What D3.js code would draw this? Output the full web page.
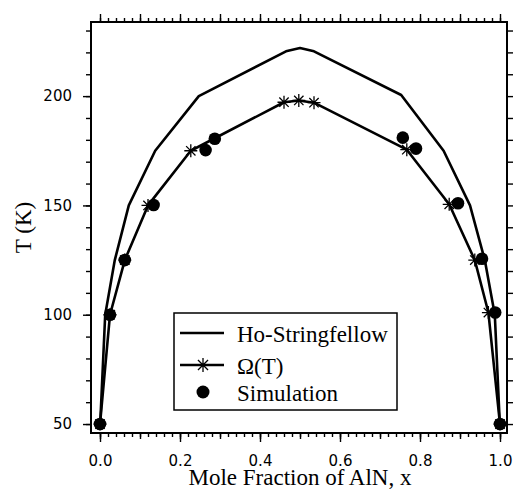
<!DOCTYPE html>
<html>
<head>
<meta charset="utf-8">
<script src="https://cdn.jsdelivr.net/npm/d3@7"></script>
<style>
  body { margin: 0; background: #fff; }
  svg { display: block; }
</style>
</head>
<body>
<script>
// Ho-Stringfellow curve (plain line)
const hsX = [0.0005, 0.013, 0.037, 0.072, 0.138, 0.247, 0.465, 0.5, 0.535, 0.753, 0.859, 0.925, 0.962, 0.987, 0.9995];
const hsT = [50, 100, 125, 150, 175, 200, 220.5, 222, 220.5, 200.5, 175, 150, 125, 100, 50];

// Omega(T) curve (line + asterisks)
const omegaX = [0, 0.025, 0.062, 0.12, 0.227, 0.46, 0.497, 0.535, 0.767, 0.873, 0.937, 0.971, 1.0];
const omegaT = [50, 100, 125, 150, 175, 197.2, 198, 197, 175.5, 150.5, 125, 101, 50];

// Simulation points
const simX = [0, 0.025, 0.062, 0.134, 0.264, 0.287, 0.757, 0.79, 0.895, 0.955, 0.988, 1.0];
const simT = [50, 100, 125, 150.2, 175.3, 180.5, 181, 176, 151, 125.6, 101, 50];

const legendLabels = ["Ho-Stringfellow", "\u03A9(T)", "Simulation"];
const xMajorTicks = [0, 0.2, 0.4, 0.6, 0.8, 1.0];
const yMajorTicks = [50, 100, 150, 200];

const width = 518;
const height = 489;
const plot = { left: 91, right: 507, top: 22, bottom: 433 };

const svg = d3.select("body")
  .append("svg")
  .attr("width", width)
  .attr("height", height);

const x = d3.scaleLinear().domain([-0.0225, 1.0175]).range([plot.left, plot.right]);
const y = d3.scaleLinear().domain([45.9, 233.9]).range([plot.bottom, plot.top]);

// minor tick lists
const xMinor = d3.range(0, 51).map((i) => i / 50);
const xTenth = d3.range(0, 11).map((i) => i / 10);
const yMinor = d3.range(50, 231, 10);

function styleAxis(g) {
  g.select(".domain").remove();
  g.selectAll("line").attr("stroke", "#000").attr("stroke-width", 1.4);
}

// bottom axis
svg.append("g")
  .attr("transform", `translate(0,${plot.bottom})`)
  .call(d3.axisBottom(x).tickValues(xMinor).tickSize(4).tickFormat(""))
  .call(styleAxis);
svg.append("g")
  .attr("transform", `translate(0,${plot.bottom})`)
  .call(d3.axisBottom(x).tickValues(xTenth).tickSize(6).tickFormat(""))
  .call(styleAxis);
svg.append("g")
  .attr("transform", `translate(0,${plot.bottom})`)
  .call(d3.axisBottom(x).tickValues(xMajorTicks).tickSize(9).tickPadding(13).tickFormat(d3.format(".1f")))
  .call(styleAxis)
  .call((g) => g.selectAll("text")
    .attr("fill", "#000")
    .style("font-family", "'DejaVu Sans', sans-serif")
    .style("font-size", "15px"));

// top axis
svg.append("g")
  .attr("transform", `translate(0,${plot.top})`)
  .call(d3.axisTop(x).tickValues(xMinor).tickSize(4).tickFormat(""))
  .call(styleAxis);
svg.append("g")
  .attr("transform", `translate(0,${plot.top})`)
  .call(d3.axisTop(x).tickValues(xTenth).tickSize(8).tickFormat(""))
  .call(styleAxis);

// left axis
svg.append("g")
  .attr("transform", `translate(${plot.left},0)`)
  .call(d3.axisLeft(y).tickValues(yMinor).tickSize(5).tickFormat(""))
  .call(styleAxis);
svg.append("g")
  .attr("transform", `translate(${plot.left},0)`)
  .call(d3.axisLeft(y).tickValues(yMajorTicks).tickSize(8).tickPadding(11))
  .call(styleAxis)
  .call((g) => g.selectAll("text")
    .attr("fill", "#000")
    .style("font-family", "'DejaVu Sans', sans-serif")
    .style("font-size", "15px"));

// right axis
svg.append("g")
  .attr("transform", `translate(${plot.right},0)`)
  .call(d3.axisRight(y).tickValues(yMinor).tickSize(6).tickFormat(""))
  .call(styleAxis);

// frame
svg.append("rect")
  .attr("x", plot.left)
  .attr("y", plot.top)
  .attr("width", plot.right - plot.left)
  .attr("height", plot.bottom - plot.top)
  .attr("fill", "none")
  .attr("stroke", "#000")
  .attr("stroke-width", 2);

// axis titles
svg.append("text")
  .attr("transform", `translate(31,${(plot.top + plot.bottom) / 2}) rotate(-90)`)
  .attr("text-anchor", "middle")
  .attr("fill", "#000")
  .style("font-family", "'Liberation Serif', serif")
  .style("font-size", "23px")
  .text("T (K)");

svg.append("text")
  .attr("x", x(0.5))
  .attr("y", 485)
  .attr("text-anchor", "middle")
  .attr("fill", "#000")
  .style("font-family", "'Liberation Serif', serif")
  .style("font-size", "23px")
  .text("Mole Fraction of AlN, x");

const line = d3.line()
  .x((d) => x(d[0]))
  .y((d) => y(d[1]));

const hsData = hsX.map((v, i) => [v, hsT[i]]);
const omegaData = omegaX.map((v, i) => [v, omegaT[i]]);
const simData = simX.map((v, i) => [v, simT[i]]);

svg.append("path")
  .datum(hsData)
  .attr("d", line)
  .attr("fill", "none")
  .attr("stroke", "#000")
  .attr("stroke-width", 2.6)
  .attr("stroke-linejoin", "round");

svg.append("path")
  .datum(omegaData)
  .attr("d", line)
  .attr("fill", "none")
  .attr("stroke", "#000")
  .attr("stroke-width", 2.6)
  .attr("stroke-linejoin", "round");

function asterisk(s) {
  const a = s * 0.72;
  return `M${-s},0H${s}M0,${-s}V${s}M${-a},${-a}L${a},${a}M${-a},${a}L${a},${-a}`;
}

svg.append("g")
  .selectAll("path")
  .data(omegaData)
  .join("path")
  .attr("transform", (d) => `translate(${x(d[0])},${y(d[1])})`)
  .attr("d", asterisk(6.5))
  .attr("fill", "none")
  .attr("stroke", "#000")
  .attr("stroke-width", 1.3);

svg.append("g")
  .selectAll("circle")
  .data(simData)
  .join("circle")
  .attr("cx", (d) => x(d[0]))
  .attr("cy", (d) => y(d[1]))
  .attr("r", 6.3)
  .attr("fill", "#000");

// legend
const legend = svg.append("g");
legend.append("rect")
  .attr("x", 174)
  .attr("y", 313)
  .attr("width", 223)
  .attr("height", 97)
  .attr("fill", "#fff")
  .attr("stroke", "#000")
  .attr("stroke-width", 1.5);

const rowY = [333, 365, 392];
legendLabels.forEach((label, i) => {
  const row = legend.append("g").attr("transform", `translate(0,${rowY[i]})`);
  if (i < 2) {
    row.append("line")
      .attr("x1", 180).attr("x2", 224)
      .attr("stroke", "#000")
      .attr("stroke-width", 2.6);
  }
  if (i === 1) {
    row.append("path")
      .attr("transform", "translate(203,0)")
      .attr("d", asterisk(7))
      .attr("fill", "none")
      .attr("stroke", "#000")
      .attr("stroke-width", 1.3);
  }
  if (i === 2) {
    row.append("circle").attr("cx", 203).attr("r", 6.5).attr("fill", "#000");
  }
  row.append("text")
    .attr("x", 237)
    .attr("y", 8.5)
    .attr("fill", "#000")
    .style("font-family", "'Liberation Serif', serif")
    .style("font-size", "23px")
    .text(label);
});
</script>
</body>
</html>
